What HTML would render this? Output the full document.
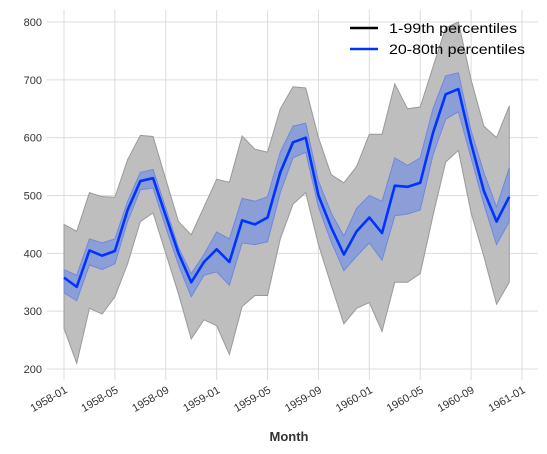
<!DOCTYPE html>
<html><head><meta charset="utf-8"><style>
body{margin:0;background:#fff}
svg{display:block;font-family:"Liberation Sans","DejaVu Sans",sans-serif}
</style></head><body>
<svg id="chart" width="547" height="454">
<g id="grid"></g>
<g id="bands"></g>
<g id="axes"></g>
<text x="289" y="441" text-anchor="middle" font-size="13" font-weight="bold" fill="#333">Month</text>
<g>
<line x1="350" y1="28" x2="378" y2="28" stroke="#000" stroke-width="2.5"/>
<text x="389" y="33" font-size="14" fill="#000" textLength="128" lengthAdjust="spacingAndGlyphs">1-99th percentiles</text>
<line x1="350" y1="49" x2="378" y2="49" stroke="#0033ff" stroke-width="2.5"/>
<text x="389" y="54" font-size="14" fill="#000" textLength="136" lengthAdjust="spacingAndGlyphs">20-80th percentiles</text>
</g>
</svg>
<script>
const median=[358,342,405,396,404,475,525,530,465,400,350,385,407,385,457,450,462,540,592,600,500,445,398,438,462,435,517,515,522,608,675,684,590,508,455,498];
const p80=[372,362,425,418,425,490,540,545,478,410,365,398,437,425,495,490,498,575,620,625,525,470,430,478,500,490,565,552,565,650,707,712,612,540,480,548];
const p20=[332,318,380,372,382,455,510,513,445,380,325,362,368,345,418,415,420,505,565,575,480,420,370,395,418,388,465,468,475,570,632,645,565,485,415,455];
const p99=[450,438,505,498,497,562,604,602,528,455,432,480,528,523,603,580,575,650,688,686,600,536,522,550,606,606,693,650,653,722,790,800,700,620,600,655];
const p01=[270,210,305,295,325,382,455,470,400,330,252,285,275,225,308,327,327,425,485,505,415,345,278,305,315,265,350,350,365,465,558,578,470,395,312,350];
const yTicks=[200,300,400,500,600,700,800];
const xTickLabels=["1958-01","1958-05","1958-09","1959-01","1959-05","1959-09","1960-01","1960-05","1960-09","1961-01"];
const xTickIdx=[0,4,8,12,16,20,24,28,32,36];
const NS="http://www.w3.org/2000/svg";
const X=i=>64+i*(458/36);
const Y=v=>369-(v-200)*0.5783;
function mk(tag,attrs,parent){const e=document.createElementNS(NS,tag);for(const k in attrs)e.setAttribute(k,attrs[k]);parent.appendChild(e);return e;}
const grid=document.getElementById('grid'),bands=document.getElementById('bands'),axes=document.getElementById('axes');
yTicks.forEach(v=>{
 const l=mk('line',{x1:47,x2:538,y1:Y(v),y2:Y(v),stroke:'#dcdcdc','stroke-width':1},grid);
 
 
 const t=mk('text',{x:42,y:Y(v)+4,'text-anchor':'end','font-size':11,fill:'#333'},axes);
 t.textContent=v;
 
 
});
xTickIdx.forEach((i,k)=>{
 const x=X(i);
 const l=mk('line',{x1:x,x2:x,y1:10,y2:380,stroke:'#dcdcdc','stroke-width':1},grid);
 
 
 const t=mk('text',{x:x+4,y:392,'text-anchor':'end','font-size':11,fill:'#333',transform:`rotate(-30 ${x+4} 392)`},axes);
 t.textContent=xTickLabels[k];
 
 
});
function band(hi,lo,fill,stroke,name){
 let d='M'+hi.map((v,i)=>X(i)+','+Y(v)).join('L');
 for(let i=lo.length-1;i>=0;i--)d+='L'+X(i)+','+Y(lo[i]);
 const p=mk('path',{d:d+'Z',fill:fill,stroke:stroke,'stroke-width':1},bands);
 
 
}
band(p99,p01,'#bebebe','#999','band-1-99');
band(p80,p20,'#8c9ed6','#6f88e0','band-20-80');
const ml=mk('polyline',{points:median.map((v,i)=>X(i)+','+Y(v)).join(' '),fill:'none',stroke:'#0033ff','stroke-width':2.6,'stroke-linejoin':'round'},bands);


</script>
</body></html>
